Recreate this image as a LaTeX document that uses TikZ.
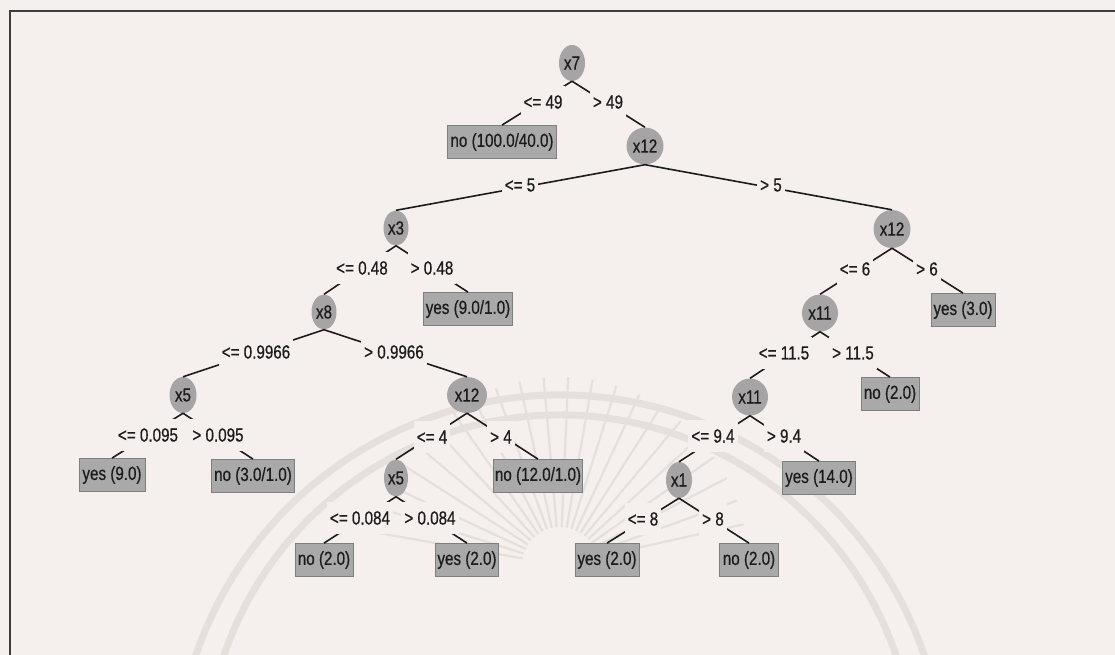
\documentclass[tikz,border=0pt]{standalone}
\usepackage{fontspec}
\newfontfamily\wkfont[FakeStretch=0.8,FakeBold=0.6]{Liberation Sans}
\usetikzlibrary{shapes.geometric}
\definecolor{bgc}{RGB}{245,240,237}
\definecolor{wmc}{RGB}{230,224,221}
\definecolor{nodegray}{RGB}{166,164,164}
\definecolor{boxgray}{RGB}{170,169,169}
\definecolor{boxedge}{RGB}{128,127,127}
\definecolor{inkc}{RGB}{28,28,28}
\tikzset{
  wkf/.style={font=\wkfont\fontsize{19}{21}\selectfont},
  inner/.style={ellipse, fill=nodegray, inner sep=0pt, text=inkc, wkf},
  leaf/.style={rectangle, fill=boxgray, draw=boxedge, line width=0.8pt,
    inner sep=0pt, minimum height=33, text=inkc, wkf},
  lbl/.style={rectangle, fill=bgc, inner xsep=3pt, inner ysep=0pt,
    minimum height=32, text=inkc, wkf},
  edge/.style={draw=inkc, line width=1.6pt},
  wmarc/.style={draw=wmc, line width=7pt},
  wmray/.style={draw=wmc, line width=2.2pt},
  frame/.style={draw=inkc!85, line width=1.6pt}
}
\begin{document}
\begin{tikzpicture}[x=1pt, y=-1pt]
\useasboundingbox (0,0) rectangle (1115,655);
\fill[bgc] (0,0) rectangle (1115,655);
% watermark (faint)
\coordinate (wc1) at (560,780);
\coordinate (wc2) at (560,770);
\coordinate (sun) at (560,565);
\draw[wmarc] (wc1) ++(198:385) arc[start angle=198, end angle=342, radius=385];
\draw[wmarc] (wc2) ++(196:355) arc[start angle=196, end angle=344, radius=355];
\foreach \a in {190,197.5,...,350} {
  \draw[wmray] (sun) ++(\a:38) -- ++(\a:150);
}
% frame
\coordinate (fa) at (10,655);
\coordinate (fb) at (10,11);
\coordinate (fc) at (1115,11);
\draw[frame] (fa) -- (fb) -- (fc);

% inner nodes
\node[inner, minimum width=26, minimum height=36] (n7) at (572,63) {x7};
\node[inner, minimum width=37, minimum height=37] (n12a) at (645,146) {x12};
\node[inner, minimum width=25, minimum height=35] (n3) at (396,228) {x3};
\node[inner, minimum width=37, minimum height=38] (n12b) at (892,229) {x12};
\node[inner, minimum width=25, minimum height=35] (n8) at (324,312) {x8};
\node[inner, minimum width=36, minimum height=37] (n11a) at (820,313) {x11};
\node[inner, minimum width=27, minimum height=36] (n5a) at (183,395) {x5};
\node[inner, minimum width=40, minimum height=36] (n12c) at (467,395) {x12};
\node[inner, minimum width=36, minimum height=37] (n11b) at (750,397) {x11};
\node[inner, minimum width=24, minimum height=37] (n5b) at (396,478) {x5};
\node[inner, minimum width=26, minimum height=36] (n1) at (679,480) {x1};

% leaves
\node[leaf, minimum width=109] (la) at (502,142) {no (100.0/40.0)};
\node[leaf, minimum width=89] (lb) at (468,309) {yes (9.0/1.0)};
\node[leaf, minimum width=64] (lc) at (963,310) {yes (3.0)};
\node[leaf, minimum width=58] (ld) at (890,394) {no (2.0)};
\node[leaf, minimum width=66] (le) at (112,475) {yes (9.0)};
\node[leaf, minimum width=83] (lf) at (253,476) {no (3.0/1.0)};
\node[leaf, minimum width=89] (lg) at (538,476) {no (12.0/1.0)};
\node[leaf, minimum width=73] (lh) at (819,478) {yes (14.0)};
\node[leaf, minimum width=58] (li) at (324,560) {no (2.0)};
\node[leaf, minimum width=63] (lj) at (467,560) {yes (2.0)};
\node[leaf, minimum width=64] (lk) at (607,560) {yes (2.0)};
\node[leaf, minimum width=59] (ll) at (749,560) {no (2.0)};

% edges
\draw[edge] (n7.south) -- (la.north);
\draw[edge] (n7.south) -- (n12a.north);
\draw[edge] (n12a.south) -- (n3.north);
\draw[edge] (n12a.south) -- (n12b.north);
\draw[edge] (n3.south) -- (n8.north);
\draw[edge] (n3.south) -- (lb.north);
\draw[edge] (n12b.south) -- (n11a.north);
\draw[edge] (n12b.south) -- (lc.north);
\draw[edge] (n8.south) -- (n5a.north);
\draw[edge] (n8.south) -- (n12c.north);
\draw[edge] (n11a.south) -- (n11b.north);
\draw[edge] (n11a.south) -- (ld.north);
\draw[edge] (n5a.south) -- (le.north);
\draw[edge] (n5a.south) -- (lf.north);
\draw[edge] (n12c.south) -- (n5b.north);
\draw[edge] (n12c.south) -- (lg.north);
\draw[edge] (n11b.south) -- (n1.north);
\draw[edge] (n11b.south) -- (lh.north);
\draw[edge] (n5b.south) -- (li.north);
\draw[edge] (n5b.south) -- (lj.north);
\draw[edge] (n1.south) -- (lk.north);
\draw[edge] (n1.south) -- (ll.north);

% edge labels
\node[lbl] (e1) at (543,102) {<= 49};
\node[lbl] (e2) at (608,102) {> 49};
\node[lbl] (e3) at (520,185) {<= 5};
\node[lbl] (e4) at (771,185) {> 5};
\node[lbl] (e5) at (362,268) {<= 0.48};
\node[lbl] (e6) at (432,268) {> 0.48};
\node[lbl] (e7) at (855,269) {<= 6};
\node[lbl] (e8) at (927,269) {> 6};
\node[lbl] (e9) at (256,352) {<= 0.9966};
\node[lbl] (e10) at (394,352) {> 0.9966};
\node[lbl] (e11) at (784,353) {<= 11.5};
\node[lbl] (e12) at (853,353) {> 11.5};
\node[lbl] (e13) at (148,435) {<= 0.095};
\node[lbl] (e14) at (218,435) {> 0.095};
\node[lbl] (e15) at (432,437) {<= 4};
\node[lbl] (e16) at (501,437) {> 4};
\node[lbl] (e17) at (713,436) {<= 9.4};
\node[lbl] (e18) at (784,436) {> 9.4};
\node[lbl] (e19) at (360,518) {<= 0.084};
\node[lbl] (e20) at (430,518) {> 0.084};
\node[lbl] (e21) at (643,519) {<= 8};
\node[lbl] (e22) at (713,519) {> 8};
\end{tikzpicture}
\end{document}
